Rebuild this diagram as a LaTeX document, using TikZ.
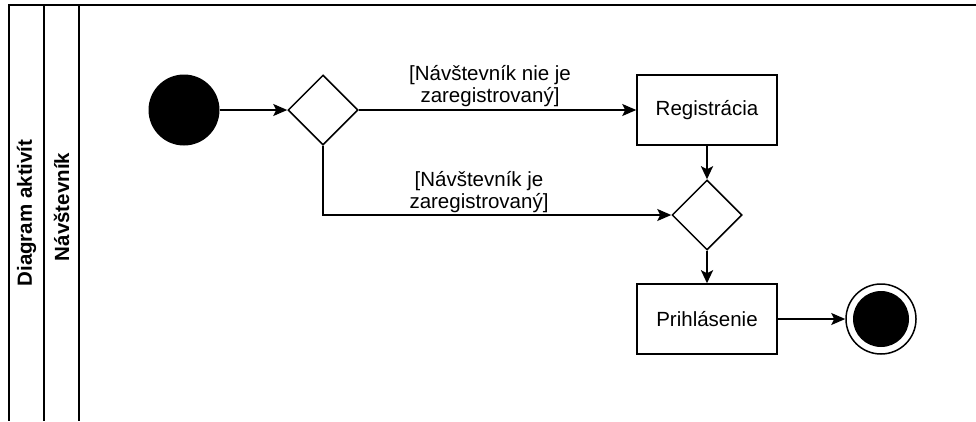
\documentclass[tikz,border=0pt]{standalone}
\usepackage{fontspec}
\setmainfont{Liberation Sans}
\usetikzlibrary{arrows.meta,shapes.geometric}
\begin{document}
\begin{tikzpicture}[x=1pt,y=-1pt,
  every node/.style={font=\fontsize{20.5}{22}\selectfont},
  box/.style={draw,line width=1.5pt,minimum width=140pt,minimum height=70pt,inner sep=0pt},
  dec/.style={draw,diamond,line width=1.5pt,minimum width=70pt,minimum height=70pt,inner sep=0pt},
  flow/.style={line width=1.5pt,-{Stealth[length=14pt,width=12pt,inset=3pt]}},
  vflow/.style={line width=2.5pt,-{Stealth[length=13pt,width=12pt,inset=3pt]}},
  lane/.style={line width=1.6pt},
  lbl/.style={align=center,inner sep=0pt},
  lanetext/.style={rotate=90,font=\bfseries\fontsize{20.5}{22}\selectfont}]
\useasboundingbox (0,0) rectangle (976,421);
% frame
\draw[line width=2pt] (8,5) -- (976,5);
\draw[lane] (9,5) -- (9,421);
\draw[lane] (44,5) -- (44,421);
\draw[lane] (79,5) -- (79,421);
\node[lanetext] (lane1) at (26.5,213) {Diagram aktivít};
\node[lanetext] (lane2) at (61.5,207) {Návštevník};
% nodes
\node[circle,fill,minimum size=71pt,inner sep=0pt] (start) at (184,110) {};
\node[dec] (d1) at (323,110) {};
\node[box] (reg) at (707,110) {Registrácia};
\node[dec] (d2) at (707,215) {};
\node[box] (pri) at (707,319) {Prihlásenie};
\node[circle,draw,line width=1.5pt,minimum size=70pt,inner sep=0pt] (end) at (881,319) {};
\node[circle,fill,minimum size=56pt,inner sep=0pt] (endin) at (end) {};
% edges
\draw[flow] (start) -- (d1);
\draw[flow] (d1) -- (reg);
\draw[flow] (d1.south) |- (d2.west);
\draw[vflow] (reg) -- (d2);
\draw[vflow] (d2) -- (pri);
\draw[flow] (pri) -- (end);
% labels
\node[lbl] (l1) at (490,86) {[Návštevník nie je\\zaregistrovaný]};
\node[lbl] (l2) at (479,192) {[Návštevník je\\zaregistrovaný]};
\end{tikzpicture}
\end{document}
